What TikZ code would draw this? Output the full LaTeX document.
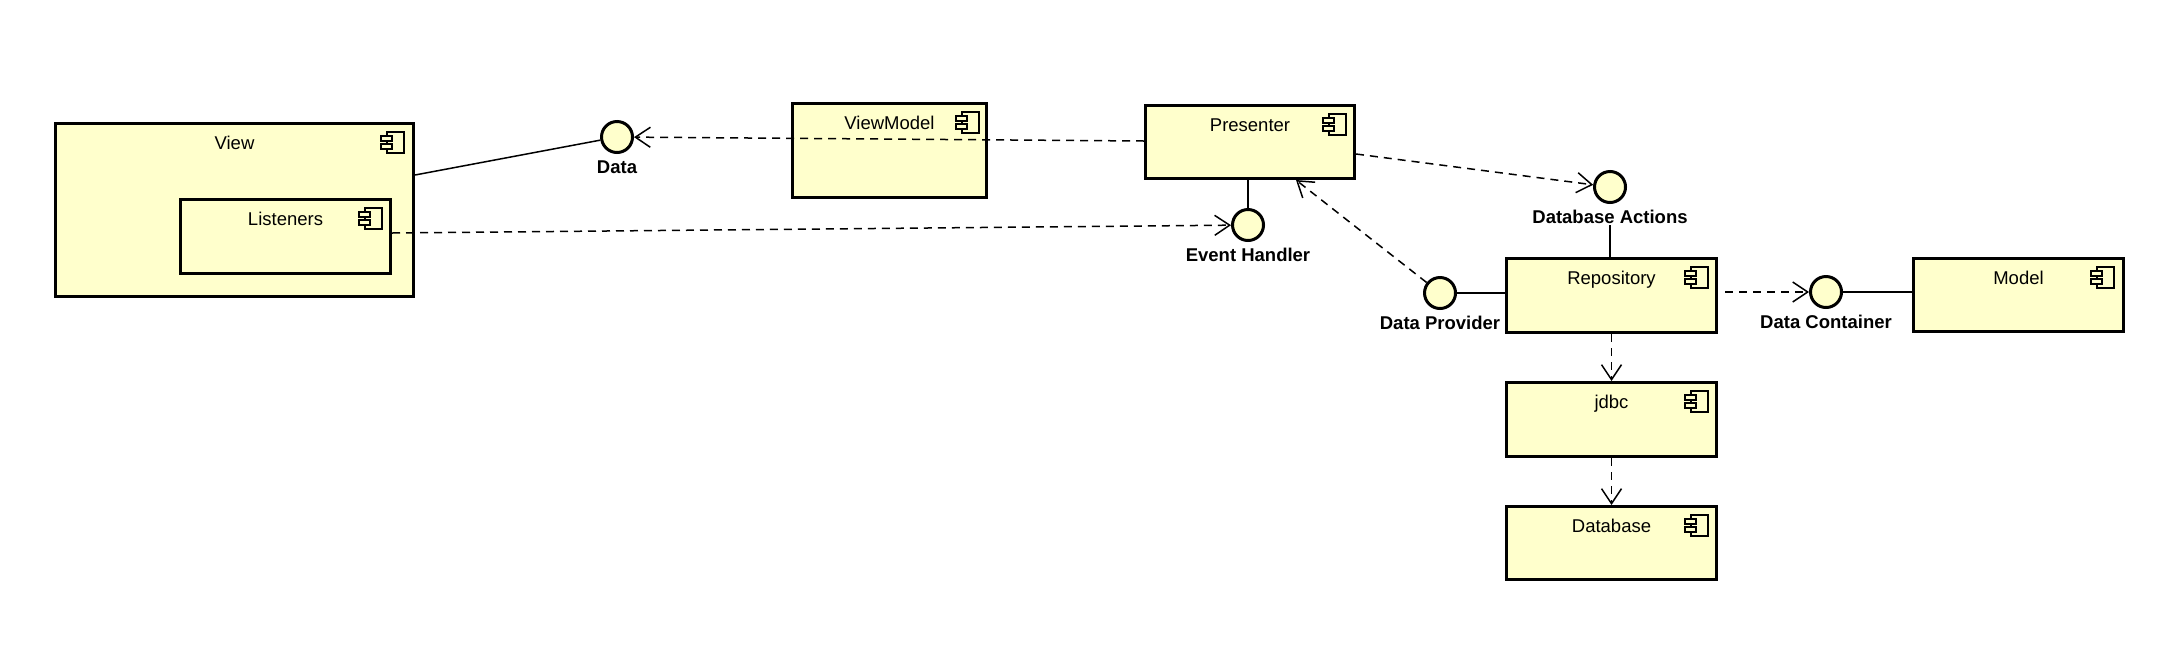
\documentclass[tikz,border=0pt]{standalone}
\usepackage{fontspec}
\setmainfont{Liberation Sans}
\usetikzlibrary{arrows.meta,calc}
\definecolor{compfill}{HTML}{FFFFCC}
\begin{document}
\begin{tikzpicture}[x=1pt,y=-1pt,
  box/.style={draw, line width=3pt, fill=compfill, rectangle, inner sep=0pt, anchor=north west},
  iface/.style={draw, line width=3pt, fill=compfill, circle, inner sep=0pt, minimum size=31pt},
  ttl/.style={anchor=base, font=\fontsize{18.5}{22}\selectfont, inner sep=0pt},
  ilab/.style={anchor=base, font=\bfseries\fontsize{18.5}{22}\selectfont, inner sep=0pt},
  conn/.style={line width=1.5pt},
  dep/.style={line width=1.5pt, dash pattern=on 8pt off 6pt, -{Straight Barb[length=15pt,width=20pt]}},
  compicon/.pic={
    \draw[line width=2pt, fill=compfill] (6,0) rectangle (23,21);
    \draw[line width=2pt, fill=compfill] (0,4) rectangle (11,9);
    \draw[line width=2pt, fill=compfill] (0,12) rectangle (11,17);
  }]
\useasboundingbox (0,0) rectangle (2159,649);

% components
\node[box, minimum width=358pt, minimum height=173pt] (view) at (54,122) {};
\node[box, minimum width=210pt, minimum height=74pt] (listeners) at (179,198) {};
\node[box, minimum width=194pt, minimum height=94pt] (viewmodel) at (791,102) {};
\node[box, minimum width=209pt, minimum height=73pt] (presenter) at (1144,104) {};
\node[box, minimum width=210pt, minimum height=74pt] (repo) at (1505,257) {};
\node[box, minimum width=210pt, minimum height=73pt] (model) at (1912,257) {};
\node[box, minimum width=210pt, minimum height=74pt] (jdbc) at (1505,381) {};
\node[box, minimum width=210pt, minimum height=73pt] (database) at (1505,505) {};

% titles
\node[ttl] (viewT) at ($(view.north)+(0,27)$) {View};
\node[ttl] (listenersT) at ($(listeners.north)+(0,27)$) {Listeners};
\node[ttl] (viewmodelT) at ($(viewmodel.north)+(0,27)$) {ViewModel};
\node[ttl] (presenterT) at ($(presenter.north)+(0,27)$) {Presenter};
\node[ttl] (repoT) at ($(repo.north)+(0,27)$) {Repository};
\node[ttl] (modelT) at ($(model.north)+(0,27)$) {Model};
\node[ttl] (jdbcT) at ($(jdbc.north)+(0,27)$) {jdbc};
\node[ttl] (databaseT) at ($(database.north)+(0,27)$) {Database};

% component icons
\path (view.north east) ++(-34,10) pic {compicon};
\path (listeners.north east) ++(-33,10) pic {compicon};
\path (viewmodel.north east) ++(-32,10) pic {compicon};
\path (presenter.north east) ++(-33,10) pic {compicon};
\path (repo.north east) ++(-33,10) pic {compicon};
\path (model.north east) ++(-34,10) pic {compicon};
\path (jdbc.north east) ++(-33,10) pic {compicon};
\path (database.north east) ++(-33,10) pic {compicon};

% interfaces
\node[iface] (data) at (617,137) {};
\node[iface] (evh) at (1248,225) {};
\node[iface] (dba) at (1610,187) {};
\node[iface] (dp) at (1440,293) {};
\node[iface] (dc) at (1826,292) {};

\node[ilab] (dataT) at ($(data)+(0,36)$) {Data};
\node[ilab] (evhT) at ($(evh)+(0,36)$) {Event Handler};
\node[ilab] (dbaT) at ($(dba)+(0,36)$) {Database Actions};
\node[ilab] (dpT) at ($(dp)+(0,36)$) {Data Provider};
\node[ilab] (dcT) at ($(dc)+(0,36)$) {Data Container};

% connectors
\draw[conn] ($(view.north east)+(0,53)$) -- (data);
\draw[dep] ($(presenter.north west)+(0,37)$) -- (data);
\draw[dep] ($(listeners.north east)+(0,35)$) -- (evh);
\draw[conn] (evh |- presenter.south) -- (evh);
\draw[dep] ($(presenter.north east)+(0,50)$) -- (dba);
\draw[conn] ($(dbaT.base)+(0,2)$) -- (dbaT.base |- repo.north);
\draw[dep] (dp) -- ($(presenter.south west)+(152,0)$);
\draw[conn] (dp) -- (dp -| repo.west);
\draw[dep] ($(repo.east |- dc)+(7,0)$) -- (dc);
\draw[conn] (dc) -- (dc -| model.west);
\draw[dep] (repo.south) -- (jdbc.north);
\draw[dep] (jdbc.south) -- (database.north);
\end{tikzpicture}
\end{document}
